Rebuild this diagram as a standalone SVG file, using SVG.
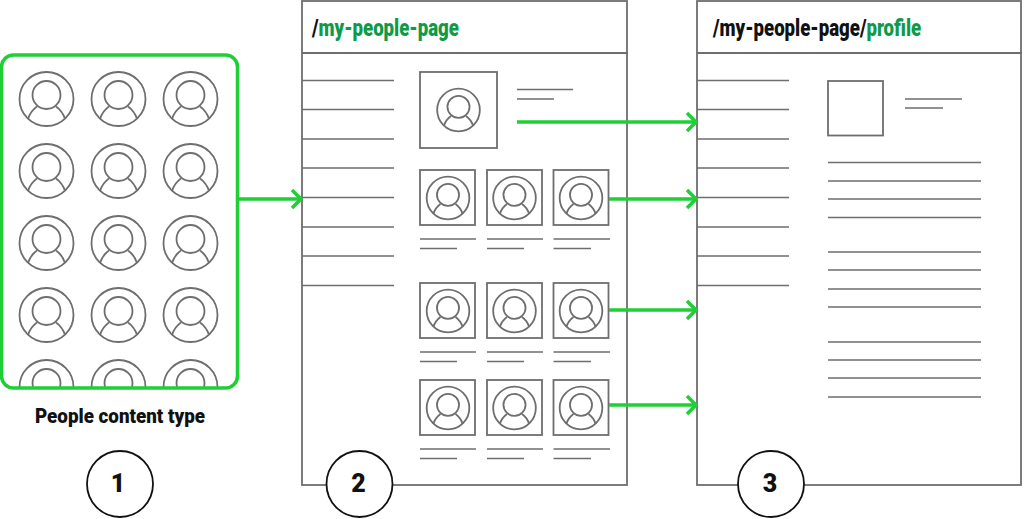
<svg xmlns="http://www.w3.org/2000/svg" xmlns:xlink="http://www.w3.org/1999/xlink" width="1024" height="519" viewBox="0 0 1024 519">
<style>
.g{fill:none;stroke:#6e6e6e;stroke-width:1.8}
.av *{vector-effect:non-scaling-stroke}
.l{stroke:#6e6e6e;stroke-width:1.7;fill:none}
.a{fill:none;stroke:#1fcf36;stroke-width:3.5}
.t{font-family:Roboto,"Liberation Sans",sans-serif;font-weight:900;fill:#111}
.h{font-size:24px}
.gr{fill:#0f9a47}
.n{font-size:25px;text-anchor:middle}
.c{fill:#fff;stroke:#111;stroke-width:1.8}
</style>
<defs>
<g id="av" class="g av"><circle r="27"/><circle cy="-4" r="14"/><path d="M-18.500 20A24 24 0 0 1-9.500 7.500M18.500 20A24 24 0 0 0 9.500 7.500"/></g>
<g id="sm"><use href="#av" transform="scale(.79)"/></g>
<clipPath id="cl"><rect x="1" y="55" width="237" height="333" rx="12"/></clipPath>
<marker id="chev" markerUnits="userSpaceOnUse" markerWidth="14" markerHeight="24" refX="12" refY="12" orient="auto" viewBox="0 0 14 24"><path d="M3 3L12 12L3 21" fill="none" stroke="#1fcf36" stroke-width="3.500"/></marker>
</defs>
<rect width="1024" height="519" fill="#fff"/>

<g id="people-content-type">
<g clip-path="url(#cl)">
<use href="#av" x="46.500" y="99"/><use href="#av" x="118.500" y="99"/><use href="#av" x="190.500" y="99"/>
<use href="#av" x="46.500" y="171"/><use href="#av" x="118.500" y="171"/><use href="#av" x="190.500" y="171"/>
<use href="#av" x="46.500" y="243"/><use href="#av" x="118.500" y="243"/><use href="#av" x="190.500" y="243"/>
<use href="#av" x="46.500" y="315"/><use href="#av" x="118.500" y="315"/><use href="#av" x="190.500" y="315"/>
<use href="#av" x="46.500" y="387"/><use href="#av" x="118.500" y="387"/><use href="#av" x="190.500" y="387"/>
</g>
<rect x="1.500" y="55" width="236" height="333" rx="12" fill="none" stroke="#1fcf36" stroke-width="3.500"/>
<text class="t" x="35" y="423" font-size="20" textLength="170" lengthAdjust="spacingAndGlyphs">People content type</text>
</g>

<g id="page-my-people">
<rect class="g" x="302" y="1" width="325" height="484"/>
<path class="g" d="M302 53H628"/>
<text class="t h" transform="translate(312 36) scale(.775 1)">/<tspan class="gr">my-people-page</tspan></text>
<path class="l" d="M302 80.500H394M302 109.500H394M302 139H394M302 168H394M302 197.500H394M302 227H394M302 256H394M302 285.500H394"/>
<rect class="g" x="420" y="72" width="77" height="76"/>
<use href="#sm" x="458.500" y="110"/>
<path class="l" d="M517 89.500H573M517 99H554"/>
<rect class="g" x="420" y="170" width="55" height="55"/><rect class="g" x="487" y="170" width="55" height="55"/><rect class="g" x="553.500" y="170" width="55" height="55"/>
<use href="#sm" x="448" y="198"/><use href="#sm" x="514.500" y="198"/><use href="#sm" x="581" y="198"/>
<path class="l" d="M420 239H476M420 248.500H457M487 239H543M487 248.500H524M553.500 239H610M553.500 248.500H591"/>
<rect class="g" x="420" y="283" width="55" height="55"/><rect class="g" x="487" y="283" width="55" height="55"/><rect class="g" x="553.500" y="283" width="55" height="55"/>
<use href="#sm" x="448" y="311"/><use href="#sm" x="514.500" y="311"/><use href="#sm" x="581" y="311"/>
<path class="l" d="M420 352H476M420 361.500H457M487 352H543M487 361.500H524M553.500 352H610M553.500 361.500H591"/>
<rect class="g" x="420" y="380" width="55" height="55"/><rect class="g" x="487" y="380" width="55" height="55"/><rect class="g" x="553.500" y="380" width="55" height="55"/>
<use href="#sm" x="448" y="408"/><use href="#sm" x="514.500" y="408"/><use href="#sm" x="581" y="408"/>
<path class="l" d="M420 449H476M420 458.500H457M487 449H543M487 458.500H524M553.500 449H610M553.500 458.500H591"/>
</g>

<g id="page-profile">
<rect class="g" x="697" y="1" width="324" height="484"/>
<path class="g" d="M697 53H1022"/>
<text class="t h" transform="translate(713 36) scale(.775 1)">/my-people-page/<tspan class="gr">profile</tspan></text>
<path class="l" d="M697 80.500H789M697 109.500H789M697 139H789M697 168H789M697 197.500H789M697 227H789M697 256H789M697 285.500H789"/>
<rect class="g" x="828" y="81" width="55" height="54.500"/>
<path class="l" d="M905 99H962M905 108H943"/>
<path class="l" d="M828 162.500H981M828 181H981M828 199H981M828 217.500H981M828 252H981M828 270H981M828 289H981M828 307H981M828 342H981M828 360H981M828 378H981M828 397H981"/>
</g>

<g id="connectors">
<path class="a" marker-end="url(#chev)" d="M238 199H301"/>
<path class="a" marker-end="url(#chev)" d="M517 122H696"/>
<path class="a" marker-end="url(#chev)" d="M609 199H696"/>
<path class="a" marker-end="url(#chev)" d="M609 310H696"/>
<path class="a" marker-end="url(#chev)" d="M609 405H696"/>
</g>

<g id="step-1"><circle class="c" cx="120" cy="484" r="33"/><text class="t n" x="118" y="492">1</text></g>
<g id="step-2"><circle class="c" cx="359.500" cy="484" r="33"/><text class="t n" x="358.500" y="492">2</text></g>
<g id="step-3"><circle class="c" cx="771" cy="484" r="33"/><text class="t n" x="770" y="492">3</text></g>
</svg>
